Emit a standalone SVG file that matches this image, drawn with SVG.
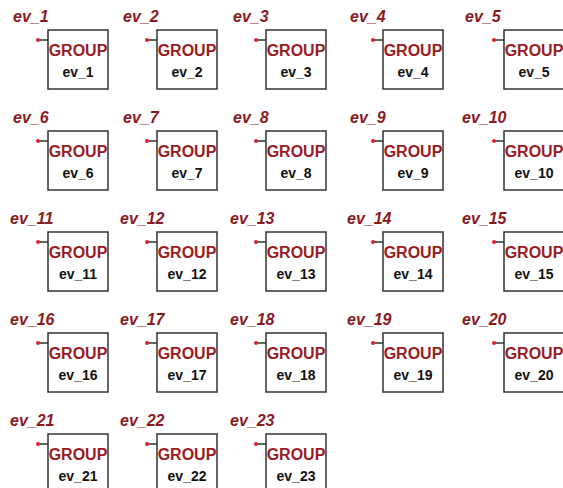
<svg xmlns="http://www.w3.org/2000/svg" width="563" height="488" viewBox="0 0 563 488">
<style>
.bg{fill:#ffffff}
.box{fill:#ffffff;stroke:#333333;stroke-width:1.5}
.lbl{font-family:"Liberation Sans",Arial,sans-serif;font-size:16px;font-weight:bold;font-style:italic;fill:#8b1a1f}
.grp{font-family:"Liberation Sans",Arial,sans-serif;font-size:16px;font-weight:bold;fill:#9a1c22;text-anchor:middle}
.name{font-family:"Liberation Sans",Arial,sans-serif;font-size:14px;font-weight:bold;fill:#111111;text-anchor:middle}
.pin{stroke:#1f3a2a;stroke-width:1.5}
.dot{fill:#e0202a}
</style>
<defs>
<g id="node">
<rect class="box" x="0" y="0" width="60" height="59"/>
<text class="grp" x="30" y="26">GROUP</text>
</g>
<g id="pinshape">
<line class="pin" x1="-10" y1="10" x2="0" y2="10"/>
<circle class="dot" cx="-10" cy="10" r="2"/>
</g>
</defs>
<rect class="bg" x="0" y="0" width="563" height="488"/>
<g id="connectors">
<use href="#pinshape" x="48" y="30"/><use href="#pinshape" x="157" y="30"/><use href="#pinshape" x="266" y="30"/><use href="#pinshape" x="383" y="30"/><use href="#pinshape" x="504" y="30"/>
<use href="#pinshape" x="48" y="131"/><use href="#pinshape" x="157" y="131"/><use href="#pinshape" x="266" y="131"/><use href="#pinshape" x="383" y="131"/><use href="#pinshape" x="504" y="131"/>
<use href="#pinshape" x="48" y="232"/><use href="#pinshape" x="157" y="232"/><use href="#pinshape" x="266" y="232"/><use href="#pinshape" x="383" y="232"/><use href="#pinshape" x="504" y="232"/>
<use href="#pinshape" x="48" y="333"/><use href="#pinshape" x="157" y="333"/><use href="#pinshape" x="266" y="333"/><use href="#pinshape" x="383" y="333"/><use href="#pinshape" x="504" y="333"/>
<use href="#pinshape" x="48" y="434"/><use href="#pinshape" x="157" y="434"/><use href="#pinshape" x="266" y="434"/>
</g>
<g id="ev_1"><text class="lbl" x="13" y="22">ev_1</text><g transform="translate(48,30)"><use href="#node"/><text class="name" x="30" y="47">ev_1</text></g></g>
<g id="ev_2"><text class="lbl" x="123" y="22">ev_2</text><g transform="translate(157,30)"><use href="#node"/><text class="name" x="30" y="47">ev_2</text></g></g>
<g id="ev_3"><text class="lbl" x="233" y="22">ev_3</text><g transform="translate(266,30)"><use href="#node"/><text class="name" x="30" y="47">ev_3</text></g></g>
<g id="ev_4"><text class="lbl" x="350" y="22">ev_4</text><g transform="translate(383,30)"><use href="#node"/><text class="name" x="30" y="47">ev_4</text></g></g>
<g id="ev_5"><text class="lbl" x="465" y="22">ev_5</text><g transform="translate(504,30)"><use href="#node"/><text class="name" x="30" y="47">ev_5</text></g></g>
<g id="ev_6"><text class="lbl" x="13" y="123">ev_6</text><g transform="translate(48,131)"><use href="#node"/><text class="name" x="30" y="47">ev_6</text></g></g>
<g id="ev_7"><text class="lbl" x="123" y="123">ev_7</text><g transform="translate(157,131)"><use href="#node"/><text class="name" x="30" y="47">ev_7</text></g></g>
<g id="ev_8"><text class="lbl" x="233" y="123">ev_8</text><g transform="translate(266,131)"><use href="#node"/><text class="name" x="30" y="47">ev_8</text></g></g>
<g id="ev_9"><text class="lbl" x="350" y="123">ev_9</text><g transform="translate(383,131)"><use href="#node"/><text class="name" x="30" y="47">ev_9</text></g></g>
<g id="ev_10"><text class="lbl" x="462" y="123">ev_10</text><g transform="translate(504,131)"><use href="#node"/><text class="name" x="30" y="47">ev_10</text></g></g>
<g id="ev_11"><text class="lbl" x="10" y="224">ev_11</text><g transform="translate(48,232)"><use href="#node"/><text class="name" x="30" y="47">ev_11</text></g></g>
<g id="ev_12"><text class="lbl" x="120" y="224">ev_12</text><g transform="translate(157,232)"><use href="#node"/><text class="name" x="30" y="47">ev_12</text></g></g>
<g id="ev_13"><text class="lbl" x="230" y="224">ev_13</text><g transform="translate(266,232)"><use href="#node"/><text class="name" x="30" y="47">ev_13</text></g></g>
<g id="ev_14"><text class="lbl" x="347" y="224">ev_14</text><g transform="translate(383,232)"><use href="#node"/><text class="name" x="30" y="47">ev_14</text></g></g>
<g id="ev_15"><text class="lbl" x="462" y="224">ev_15</text><g transform="translate(504,232)"><use href="#node"/><text class="name" x="30" y="47">ev_15</text></g></g>
<g id="ev_16"><text class="lbl" x="10" y="325">ev_16</text><g transform="translate(48,333)"><use href="#node"/><text class="name" x="30" y="47">ev_16</text></g></g>
<g id="ev_17"><text class="lbl" x="120" y="325">ev_17</text><g transform="translate(157,333)"><use href="#node"/><text class="name" x="30" y="47">ev_17</text></g></g>
<g id="ev_18"><text class="lbl" x="230" y="325">ev_18</text><g transform="translate(266,333)"><use href="#node"/><text class="name" x="30" y="47">ev_18</text></g></g>
<g id="ev_19"><text class="lbl" x="347" y="325">ev_19</text><g transform="translate(383,333)"><use href="#node"/><text class="name" x="30" y="47">ev_19</text></g></g>
<g id="ev_20"><text class="lbl" x="462" y="325">ev_20</text><g transform="translate(504,333)"><use href="#node"/><text class="name" x="30" y="47">ev_20</text></g></g>
<g id="ev_21"><text class="lbl" x="10" y="426">ev_21</text><g transform="translate(48,434)"><use href="#node"/><text class="name" x="30" y="47">ev_21</text></g></g>
<g id="ev_22"><text class="lbl" x="120" y="426">ev_22</text><g transform="translate(157,434)"><use href="#node"/><text class="name" x="30" y="47">ev_22</text></g></g>
<g id="ev_23"><text class="lbl" x="230" y="426">ev_23</text><g transform="translate(266,434)"><use href="#node"/><text class="name" x="30" y="47">ev_23</text></g></g>
</svg>
